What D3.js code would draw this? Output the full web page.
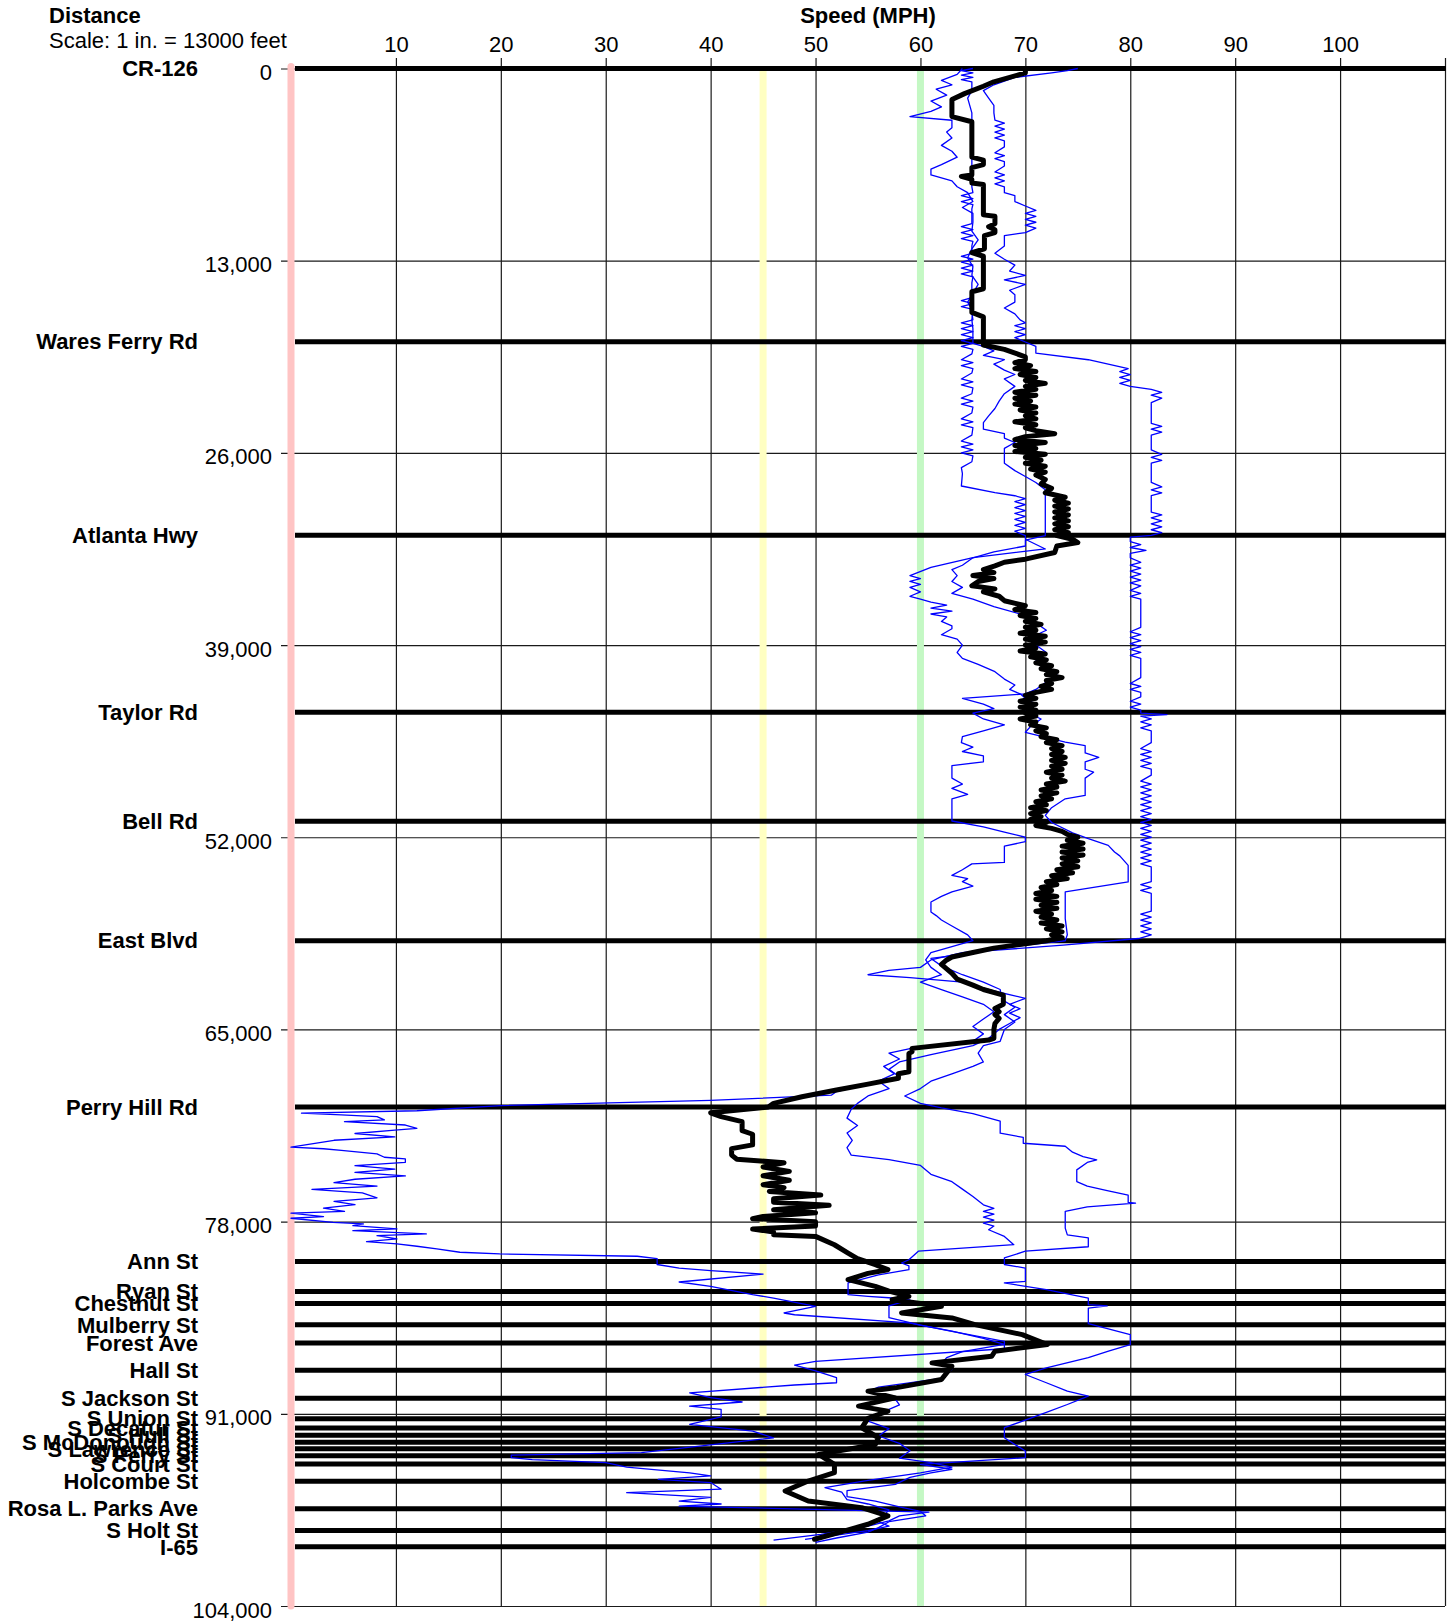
<!DOCTYPE html>
<html><head><meta charset="utf-8">
<script src="https://cdn.jsdelivr.net/npm/d3@7"></script>
<style>
body{margin:0;background:#fff}
svg{display:block}
text{font-family:"Liberation Sans",Arial,Helvetica,sans-serif;fill:#000}
</style>
</head><body>
<svg id="chart" width="1450" height="1621"></svg>
<script>
// ---------- data ----------
const speedTicks = [10,20,30,40,50,60,70,80,90,100];
const speedGrid = [10,20,30,40,50,60,70,80,90,100,110];
const distanceTicks = [0,13000,26000,39000,52000,65000,78000,91000,104000];
const referenceSpeeds = [0,45,60];
const referenceColors = ["#ffc4c4","#ffffc2","#c4f8c4"];
const streetNames = ["CR-126","Wares Ferry Rd","Atlanta Hwy","Taylor Rd","Bell Rd","East Blvd","Perry Hill Rd","Ann St","Ryan St","Chestnut St","Mulberry St","Forest Ave","Hall St","S Jackson St","S Union St","S Decatur St","S Hull St","S McDonough St","S Lawrence St","S Perry St","S Court St","Holcombe St","Rosa L. Parks Ave","S Holt St","I-65"];
const streetDistances = [0,18480,31580,43540,50920,59000,70250,80700,82720,83530,84980,86210,88060,89950,91330,91960,92450,92920,93370,93830,94390,95560,97420,98900,100000];

// run 1 : [distance ft, speed mph]
const run1 = [[0,65],[150,63.9],[300,65],[450,63.9],[600,65],[750,63.9],[900,64.9],[1500,64.9],[2000,64.5],[3000,64.9],[5000,64.9],[7000,64.9],[8000,64.9],[8400,65],
[8600,63.9],[8800,65],[9000,63.9],[9200,65],[9500,64.9],[10500,64.9],[10700,63.9],[10900,65],[11100,63.9],[11300,65],[11500,63.9],[11700,65],[12000,64.9],[12500,64.9],[12700,63.9],[12900,65],[13100,63.9],[13300,65],[13500,63.9],[13700,65],[13900,63.9],[14100,65],[14500,64.9],[15500,64.9],[15700,63.9],[15900,65],[16100,63.9],[16300,65],[16500,64.9],[17000,65],[17200,63.9],[17400,65],[17600,63.9],[17800,65],[18000,63.9],[18200,65],[18400,63.9],[18600,65],[18800,63.9],[19000,65],[19300,64.9],[19700,63.9],[19900,65],[20100,63.9],[20300,65],[20600,64.9],[21000,63.9],[21200,65],[21400,63.9],[21600,65],[22000,64.9],[22300,63.9],[22500,65],[22700,63.9],[22900,65],[23300,64.9],[23700,63.9],[23900,65],[24100,63.9],[24300,65],[24800,64.9],[25200,63.9],[25400,65],[25600,63.9],[25800,65],[26000,63.9],[26200,65],[26600,64.9],[27000,63.9],[27400,64],[28240,63.9],[28690,67.1],[28900,69],[29100,70],[29300,69],[29500,70],[29700,69],[29900,70],[30100,69],[30300,70],[30500,69],[30700,70],[30900,69],[31100,70],[31300,69],[31600,70],[31840,70],[32500,71.9],[33080,65],[33750,61],[34300,59],[34500,60],[34700,59],[34900,60],[35100,59],[35400,60],[35700,59],[35900,60],[36100,61],[36300,62.5],[36500,61],[36700,63],[36900,61],[37100,62.5],[37400,62],[37700,63],[37900,63],[38300,62],[38600,63.5],[39000,64],[39500,63.5],[39900,64],[40300,65.5],[40800,67.1],[41300,68],[41700,69],[42000,68.5],[42300,69.5],[42600,70],[43000,71],[43500,70],[44000,71.5],[44500,70.5],[44900,70],[45570,73.8],[45800,75.7],[46300,75.7],[46600,77],[46900,75.7],[47400,75.7],[47600,76.5],[48000,75.7],[48500,75.7],[49170,75.7],[49400,73.8],[50000,72.5],[50520,71.9],[51000,72.5],[51700,74.5],[52100,76],[52550,77.9],[53000,78.5],[53260,79],[53900,79.8],[54500,79.8],[55020,79.8],[55700,73.8],[56500,73.8],[57500,73.8],[58600,74],[59000,73.8],
[59300,70],[59800,64],[60300,61],[60800,60],[61000,57],[61300,55],[61500,59],[61800,64],[62400,67],[62900,70],[63300,68.5],[63600,69.5],[63900,68.5],[64200,69.5],[64600,68.5],[65000,67.5],[65600,66.5],[66100,65],[66700,61],[67200,58],[67700,57],[68200,58],[68700,55],[69200,52],[69450,51.5],[69800,40],[70150,20],[70500,12],
[70663,1],[70777,4.8],[70892,8.2],[71121,8.9],[71236,5.1],[71465,10.9],[71694,12],[71809,9.9],[72038,6.1],[72268,9.9],[72497,4.1],[72956,0],[73070,3.1],[73185,4.8],[73414,8.2],[73644,8.9],[73758,10.9],[73988,10.9],[74217,6.1],[74446,9.9],[74675,6.1],[74905,10.9],[75134,6.1],[75363,4.1],[75593,8.2],[75822,2],[76051,6.8],[76395,8.2],[76625,4.1],[76854,6.1],[77083,3.1],[77312,5.1],[77427,0],[77656,3.1],[77771,0],[78045,4],[78158,6.9],[78270,5.9],[78495,10.1],[78608,5.9],[78833,12.9],[78946,8.2],[79170,10.1],[79350,7.2],[79508,10.1],[79666,12],[79846,13.9],[80071,16.1],[80183,19.9],[80341,33],[80500,34.9],[80900,34.9],[81150,37],[81309,40],[81545,45],[82085,37],[82380,40],[82940,44],[83170,46],[83730,50],[84180,47],[84300,48],[84850,58.9],[85420,63],[86100,68],[86300,68],[86600,68],[87450,50],[87700,48],[88100,50],[88560,52],[88900,52],[89050,48],[89580,38],[89900,40],[90200,43],[90480,38],[90700,41],[91200,41],[91720,38],[92170,44],[92620,46],[93630,33.4],[93800,21],[93970,21],[94100,23],[94300,30],[94600,32],[95000,38],[95200,40],[95430,35],[95650,40],[96100,41],[96330,32],[96650,40],[96900,37],[97100,41],[97250,37],[97650,60.8],[97900,58],[98245,57],[98600,55],[98920,52.5],[99150,50.5],[99550,46]];

// run 2
const run2 = [[0,75],[150,74],[300,72.5],[600,69],[1100,67],[1500,66],[2000,66.5],[2500,67],[3000,67],[3500,67.1],[3700,68],[3900,67.1],[4100,68],[4300,67.1],[4500,68],[4700,67.1],[4900,68],[5300,68],[5700,67.1],[5900,68],[6100,67.1],[6300,68],[6600,68],[7000,67.1],[7200,68],[7400,67.1],[7600,68],[7800,67.1],[8000,68],[8400,68],[8600,69],[9000,69],[9300,70],[9600,71],[9800,70],[10000,71],[10200,70],[10400,71],[10600,70],[10800,71],[11100,70],[11300,68],[12000,68],[12500,67.1],[12900,68],[13300,69],[13700,68.5],[14000,70],[14300,68],[14600,70],[15000,68.5],[15300,69],[15800,69],[16200,68],[16600,69],[17000,69.5],[17200,70],[17400,69],[17600,70],[17800,69],[18000,70],[18200,69],[18500,70],[18800,71],[19250,71],[19700,76],[20300,79.8],[20500,79],[20700,80],[20900,79],[21100,80],[21300,79],[21500,80],[21700,82],[21900,83],[22100,82],[22300,83],[22600,82],[23600,82],[24000,82],[24200,83],[24400,82],[24600,83],[24800,82],[25800,82],[26100,83],[26300,82],[26500,83],[26700,82],[28000,82],[28300,83],[28500,82],[28700,83],[28900,82],[30000,82],[30200,83],[30400,82],[30600,83],[30800,82],[31000,83],[31200,82],[31400,83],[31580,82],[31700,80],[32000,80],[32200,81],[32400,80],[32600,81.5],[32800,80],[33100,80],[33400,81],[33600,80],[33800,81],[34000,80],[34200,81],[34400,80],[34600,81],[34800,80],[35000,81],[35300,80],[35500,81],[35700,80],[35900,81],[37800,81],[38100,80],[38300,81],[38500,80],[38700,81],[38900,80],[39100,81],[39300,80],[39500,81],[39700,80],[39900,81],[41200,81],[41600,80],[41800,81],[42000,80],[42200,81],[42500,81],[42800,80],[43000,81],[43200,80],[43400,81],[43600,81],[43700,83.5],[43800,81],[44000,82],[44200,81],[44400,82],[44600,81],[44800,82],[45600,82],[46000,81],[46200,82],[46400,81],[46600,82],[46800,81],[47000,82],[47200,81],[47400,82],[47800,82],[48200,81],[48400,82],[48600,81],[48800,82],[49000,81],[49200,82],[49400,81],[49600,82],[49800,81],[50000,82],[50200,81],[50400,82],[50600,81],[50800,82],[51000,81],[51200,82],[51400,81],[51600,82],[51800,81],[52000,82],[52200,81],[52400,82],[52600,81],[52800,82],[53000,81],[53200,82],[53400,81],[53600,82],[53800,81],[54000,82],[55000,82],[55200,81],[55400,82],[55600,81],[55800,82],[57000,82],[57200,81],[57400,82],[57600,81],[57800,82],[58000,81],[58200,82],[58400,81],[58600,82],[58850,80.8],[59300,73.6],[59700,65.9],[60000,63.3],[60200,61],[60700,62],[61300,64],[61800,66],[62300,67.6],[63000,67.8],[63500,69],[64000,68],[64500,69],[65000,68],[65800,67.6],[66100,66],[66600,65.5],[67200,66],[67500,65],[68000,63],[68500,61],[69000,60],[69500,58.5],[70000,60],[70300,62],[70700,65],[71200,67.6],[72020,67.6],[72300,69.8],[72700,69.8],[72900,73.8],[73300,74.5],[73600,75.5],[73820,76.8],[74000,75.9],[74500,74.9],[75290,74.9],[75600,75.9],[75900,77.8],[76200,79.8],[76700,79.8],[76750,80.5],[77000,75.9],[77300,73.8],[78440,73.8],[78900,74],[79100,76],[79700,76],[80000,70],[80460,68],[80900,68],[81140,70],[82040,70],[82150,68],[82600,72],[83170,76],[83620,76],[83700,77.8],[83850,76],[84900,76],[85640,80],[86320,80],[86750,78],[87200,76],[87900,72],[88340,70],[88900,72],[89470,74],[89800,76],[90370,74],[90900,72],[91940,68],[92620,68],[93520,70],[93970,70],[94420,60],[94750,63],[95000,61],[95300,59],[95770,57.6],[96200,53],[96600,53],[96900,55.7],[97300,58],[97600,60],[97900,60.5],[98300,57],[98700,56],[99000,55],[99400,52],[99700,50]];

// run 3
const run3 = [[0,64],[400,63.5],[800,62],[1100,63],[1400,61.5],[1800,62.5],[2200,61],[2600,62],[2900,61],[3250,59],[3500,63],[4000,63],[4300,62.5],[4700,63],[5200,62],[5600,63],[6000,63.5],[6500,62],[6800,61],[7200,61],[7600,63],[8000,63.5],[8400,64.5],[9000,65],[9400,64],[9800,65],[10400,65],[11000,64.9],[11600,65.5],[12200,64.9],[12800,64.5],[13400,65],[14000,64.9],[14600,65.5],[15200,65],[15800,64.5],[16400,65],[17000,64.9],[17600,65],[18600,65],[18800,66],[19100,67],[19400,66],[19700,68],[20000,67],[20400,68],[20700,69],[21000,68],[21500,69],[22000,68],[22500,67.5],[23000,67.1],[23500,66.5],[23960,66],[24400,66],[24700,68],[25000,68],[25300,69],[25700,68],[26700,68],[27200,69],[27600,70],[28000,71],[28500,71.9],[31600,71.9],[31900,70],[32300,70],[32700,67],[33100,65],[33600,64],[33900,63],[34300,63.5],[34700,63],[35100,64],[35500,63],[35900,65],[36400,67],[37000,70],[37500,71],[38000,72],[38500,70.5],[39000,71],[39500,72],[40000,71],[40500,72],[41000,73],[41500,72],[42000,71],[42300,70],[42600,64],[43000,66],[43300,67],[43600,65],[44000,66],[44400,68],[44800,66],[45200,64],[45600,63.9],[45900,65],[46200,64],[46500,66],[46900,66],[47150,63],[48000,63],[48400,64],[48700,63],[49100,64.5],[49400,63],[50900,63],[51300,66],[51650,68],[52000,70],[52300,70],[52600,68],[53700,68],[53800,64.9],[54200,64],[54580,63],[54800,64.5],[55000,64],[55300,65],[55700,63],[56000,62],[56380,61],[57050,61],[57300,61.5],[57600,62],[58000,63],[58600,64.5],[59000,65],[59400,63],[59800,61],[60300,60.5],[60800,61],[61300,62],[61800,60],[62300,62],[62800,64],[63300,66],[63800,67],[64300,66],[64800,65],[65300,66],[65800,65],[66300,59],[66600,57],[67000,58],[67500,56.5],[68000,57.5],[68500,56],[69000,57],[69500,55],[70000,54],[70400,53.4],[71000,53],[71500,54],[72000,53],[72500,53.5],[73000,53],[73500,53.4],[73800,57],[74200,60],[74800,61],[75300,63],[75800,64],[76300,65],[76860,66],[77100,67],[77300,66],[77500,67],[77700,66],[77900,67],[78100,66],[78300,67],[78550,66.5],[79000,68],[79560,68.9],[80000,59.8],[80580,58.9],[80800,58.2],[81000,58.9],[81250,58.9],[81600,56],[82150,53.1],[82940,53.1],[83050,55],[83150,57],[83300,59],[83700,57],[84500,57],[85000,60],[85400,63],[85900,66],[86300,68],[86800,64],[87200,62.5],[87600,62],[88000,63],[88600,62],[89200,56],[89500,55],[89900,57.5],[90400,58],[91000,56],[91500,55],[92000,57],[92500,56],[93000,58],[93500,59],[94000,58],[94300,61],[94600,63],[95000,60],[95500,55],[95990,50.9],[96300,52.5],[96800,53],[97100,55],[97500,57],[97900,56.5],[98300,56],[98600,57],[98900,55],[99200,52],[99500,49]];

// average speed
const averageSpeed = [[0,70],[300,70],[900,67],[1200,66],[1700,64.2],[2100,63],[3250,63],[3600,64.9],[6000,64.9],[6200,66],[6500,66],[6700,64.9],[7200,64.9],[7300,63.9],[7500,64.9],[7750,64.9],[7850,66],[9900,66],[10000,67.1],[10500,67.1],[10700,66.5],[10900,67.1],[11100,67.1],[11300,66.1],[12200,66.1],[12450,64.9],[12700,66],[14900,66],[15100,64.9],[16500,64.9],[16800,66],[18700,66],[19000,68],[19500,70],[19700,70],[19900,69],[20100,70.5],[20300,69],[20500,71],[20700,69.5],[20900,71],[21100,70],[21300,71.9],[21500,70],[21700,71],[21900,69],[22100,71],[22300,69],[22500,70.5],[22700,69],[22900,71],[23100,69.5],[23300,71],[23500,70],[23700,71],[23900,69],[24100,71],[24300,70],[24500,71],[24700,72.8],[24900,70],[25100,69],[25300,71.9],[25500,69],[25700,71],[25900,69],[26100,71.9],[26300,70],[26500,71.5],[26700,70],[26900,71.9],[27100,70.5],[27300,71.9],[27500,71],[27800,71.9],[28100,71.5],[28400,72.5],[28700,71.9],[29000,73.8],[29200,72.8],[29400,74.1],[29600,72.8],[29800,74.1],[30000,72.8],[30200,74.1],[30400,72.8],[30600,74.1],[30800,72.8],[31000,74.1],[31200,72.8],[31400,74.1],[31600,73],[31840,74.5],[32066,75],[32300,73],[32740,72.8],[33190,70],[33400,68],[33640,67.1],[33900,66],[34100,67],[34300,65],[34500,67],[34700,65.5],[34990,64.9],[35200,67.1],[35400,66],[35700,67.5],[36000,68],[36340,70],[36600,69],[36800,71],[37000,69.5],[37200,71],[37400,70],[37600,71.5],[37800,70],[38000,71],[38200,69.5],[38400,71.9],[38600,70],[38800,71.9],[39000,70],[39200,71],[39400,69.5],[39600,71.9],[39800,70.5],[40000,72],[40200,71],[40400,72.5],[40600,71.5],[40800,73],[41000,72],[41200,73.5],[41400,72],[41600,72.5],[41800,71.5],[42000,72.5],[42200,71],[42400,70],[42600,71],[42800,69.5],[43000,71],[43200,69.5],[43400,71],[43600,70],[43800,71],[44000,69.5],[44200,71],[44400,70.5],[44600,72],[44800,71],[45000,72],[45200,71.5],[45400,73],[45600,72],[45800,73.5],[46000,72.5],[46200,73.5],[46400,72.5],[46600,73.8],[46800,72.5],[47000,73.8],[47200,72.5],[47400,73.5],[47600,72],[47800,73.5],[48000,72.5],[48200,73.8],[48400,72],[48600,73],[48800,71.5],[49000,73],[49200,71.5],[49400,72.5],[49600,71],[49800,72],[50000,70.5],[50200,72],[50400,70.5],[50600,71.5],[50800,70.5],[51000,72],[51200,71],[51400,72.5],[51600,73.5],[51800,74],[52000,75],[52200,74],[52400,75.5],[52600,73.5],[52800,75.5],[53000,73.5],[53200,75.5],[53400,73.5],[53600,75],[53800,73.5],[54000,75],[54200,73],[54400,74.5],[54600,72.5],[54800,74],[55000,72],[55200,73],[55400,71.5],[55600,72.5],[55800,71],[56000,73],[56200,71],[56400,73],[56600,71.5],[56800,73],[57000,71],[57200,72.5],[57400,71.5],[57600,73],[57800,71.5],[58000,73.5],[58200,72],[58400,73.5],[58600,72.5],[58800,73.5],[59000,72],[59200,70],[59500,67],[59800,65],[60100,63],[60300,62.5],[60600,62],[60900,62.5],[61200,63],[61600,63.5],[62000,65],[62300,66],[62680,67.9],[63300,67.9],[63580,67.1],[63800,67.5],[64000,67.1],[64250,67.5],[64600,67.1],[65000,67],[65600,67],[65720,66.5],[66280,59.2],[66510,59.2],[66620,58.9],[67860,58.9],[68000,57.9],[68300,57.9],[68700,55],[69100,52],[69550,48.7],[70000,46],[70250,45.5],[70640,40],[70900,41],[71240,43],[71850,43],[72090,44],[72810,44],[73060,42],[73500,42],[73780,42.5],[74020,47],[74300,45],[74600,47.5],[74900,45],[75200,47.5],[75500,45],[75700,47],[75960,45.6],[76200,50.5],[76450,46],[76690,46],[76900,51.3],[77200,46],[77400,50],[77650,45],[77800,44],[78000,50],[78300,50],[78500,44],[78700,46],[78888,46],[79000,50],[79564,51.8],[80126,53.1],[80500,54],[80914,55.7],[81250,56.9],[81500,55],[81927,53.1],[82380,55.7],[82700,57],[83052,58.9],[83280,57.3],[83728,62],[84178,58.2],[84516,63],[84966,65.2],[85641,69.7],[86317,72.1],[86767,67.1],[87100,66.8],[87554,61.1],[87780,63],[88680,62],[89243,57.6],[89468,55],[89918,57.6],[90481,54.1],[90820,56.9],[91300,55],[91944,54.4],[92619,56],[93070,55.7],[93745,50.3],[94420,51.8],[94980,51.8],[95546,49.3],[96222,47.1],[96897,49.3],[97345,54.4],[97907,56.9],[98470,55],[99033,52.2],[99483,49.9]];

// ---------- drawing ----------
const svg = d3.select("#chart");
const x = d3.scaleLinear().domain([0,110]).range([291,1445]);
const y = d3.scaleLinear().domain([0,104000]).range([68.5,1606]);
const FONT = "Liberation Sans, Arial, sans-serif";

// titles
svg.append("text").attr("x",49).attr("y",23).attr("font-size",22).attr("font-weight","bold").text("Distance");
svg.append("text").attr("x",49).attr("y",48).attr("font-size",22).text("Scale: 1 in. = 13000 feet");
svg.append("text").attr("x",868).attr("y",23).attr("font-size",22).attr("font-weight","bold").attr("text-anchor","middle").text("Speed (MPH)");

// top axis with vertical grid lines
const topY = 58;
const xAxis = d3.axisTop(x).tickValues(speedGrid)
  .tickSize(-(y(104000)-topY)).tickPadding(6)
  .tickFormat(d => speedTicks.includes(d) ? d : "");
const gx = svg.append("g").attr("transform",`translate(0,${topY})`).call(xAxis);
gx.select(".domain").remove();
gx.selectAll(".tick line").attr("stroke","#1a1a1a").attr("stroke-width",1.2);
gx.selectAll(".tick text").attr("font-size",22).attr("font-family",FONT).attr("fill","#000");

// left axis with horizontal grid lines
const leftX = 281;
const yAxis = d3.axisLeft(y).tickValues(distanceTicks)
  .tickSize(-(x(110)-leftX)).tickPadding(9)
  .tickFormat(d3.format(","));
const gy = svg.append("g").attr("transform",`translate(${leftX},0)`).call(yAxis);
gy.select(".domain").remove();
gy.selectAll(".tick line").attr("stroke","#1a1a1a").attr("stroke-width",1.2);
gy.selectAll(".tick text").attr("font-size",22).attr("dy","0.5em").attr("font-family",FONT).attr("fill","#000");

// reference speed lines
svg.append("g").selectAll("line").data(referenceSpeeds).join("line")
  .attr("x1",d=>x(d)).attr("x2",d=>x(d))
  .attr("y1",y(0)-2).attr("y2",y(104000))
  .attr("stroke",(d,i)=>referenceColors[i]).attr("stroke-width",7)
  .attr("stroke-linecap",(d,i)=>i===0?"round":"butt");

// street lines
svg.append("g").selectAll("line").data(streetDistances).join("line")
  .attr("x1",x(0)+4).attr("x2",x(110)+1)
  .attr("y1",d=>y(d)).attr("y2",d=>y(d))
  .attr("stroke","#000").attr("stroke-width",5);

// street labels
svg.append("g").selectAll("text").data(streetNames).join("text")
  .attr("x",198).attr("y",(d,i)=>y(streetDistances[i]))
  .attr("dy","0.35em").attr("text-anchor","end")
  .attr("font-size",22).attr("font-weight","bold").text(d=>d);

// speed runs
const line = d3.line().x(d=>x(d[1])).y(d=>y(d[0]));
svg.append("g").selectAll("path").data([run1,run2,run3]).join("path")
  .attr("d",line).attr("fill","none").attr("stroke","#0000ff").attr("stroke-width",1.3)
  .attr("stroke-linejoin","round");

svg.append("path").datum(averageSpeed).attr("d",line)
  .attr("fill","none").attr("stroke","#000").attr("stroke-width",5)
  .attr("stroke-linejoin","round").attr("stroke-linecap","round");
</script>
</body></html>
